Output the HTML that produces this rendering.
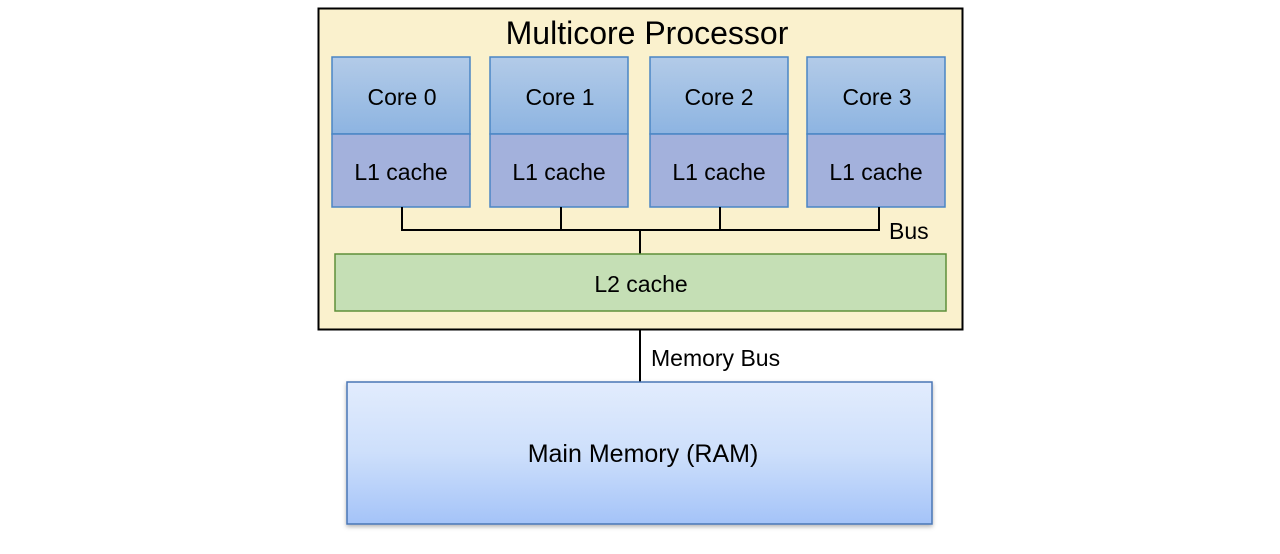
<!DOCTYPE html>
<html><head><meta charset="utf-8"><style>
html,body{margin:0;padding:0;background:#fff;width:1280px;height:554px;overflow:hidden}
svg text{font-family:"Liberation Sans",sans-serif;fill:#000}
</style></head><body>
<svg width="1280" height="554" viewBox="0 0 1280 554" xmlns="http://www.w3.org/2000/svg">
<defs>
<linearGradient id="core" x1="0" y1="0" x2="0" y2="1"><stop offset="0" stop-color="#b3cbe8"/><stop offset="1" stop-color="#8db4e1"/></linearGradient>
<linearGradient id="ram" x1="0" y1="0" x2="0" y2="1"><stop offset="0" stop-color="#e2ecfd"/><stop offset="0.5" stop-color="#cddffb"/><stop offset="1" stop-color="#a4c3f8"/></linearGradient>
<filter id="sh" x="-5%" y="-5%" width="110%" height="115%"><feDropShadow dx="0" dy="2" stdDeviation="2" flood-color="#000" flood-opacity="0.3"/></filter>
</defs>
<rect x="318.5" y="8.5" width="644" height="321" fill="#faf1cd" stroke="#000" stroke-width="2"/>
<text x="647" y="44" font-size="32" text-anchor="middle">Multicore Processor</text>
<g stroke="#4a86c5" stroke-width="1.5">
<rect x="332" y="57" width="138" height="77" fill="url(#core)"/><rect x="332" y="134" width="138" height="73" fill="#a3b1dc"/>
<rect x="490" y="57" width="138" height="77" fill="url(#core)"/><rect x="490" y="134" width="138" height="73" fill="#a3b1dc"/>
<rect x="650" y="57" width="138" height="77" fill="url(#core)"/><rect x="650" y="134" width="138" height="73" fill="#a3b1dc"/>
<rect x="807" y="57" width="138" height="77" fill="url(#core)"/><rect x="807" y="134" width="138" height="73" fill="#a3b1dc"/>
</g>
<g font-size="23" text-anchor="middle">
<text x="402" y="105">Core 0</text><text x="560" y="105">Core 1</text><text x="719" y="105">Core 2</text><text x="877" y="105">Core 3</text>
<text x="401" y="180">L1 cache</text><text x="559" y="180">L1 cache</text><text x="719" y="180">L1 cache</text><text x="876" y="180">L1 cache</text>
</g>
<g stroke="#000" stroke-width="2" fill="none">
<path d="M402 207V230H879V207M561 207V230M720 207V230M640 230V254"/>
<path d="M640 329V382"/>
</g>
<text x="889" y="239" font-size="23">Bus</text>
<rect x="335" y="254" width="611" height="57" fill="#c5dfb5" stroke="#5e8f3a" stroke-width="1.5"/>
<text x="641" y="292" font-size="23" text-anchor="middle">L2 cache</text>
<text x="651" y="366" font-size="23">Memory Bus</text>
<rect x="347" y="382" width="585" height="142" fill="url(#ram)" stroke="#4a76b5" stroke-width="1.5" filter="url(#sh)"/>
<text x="643" y="462" font-size="25" text-anchor="middle">Main Memory (RAM)</text>
</svg>
</body></html>
